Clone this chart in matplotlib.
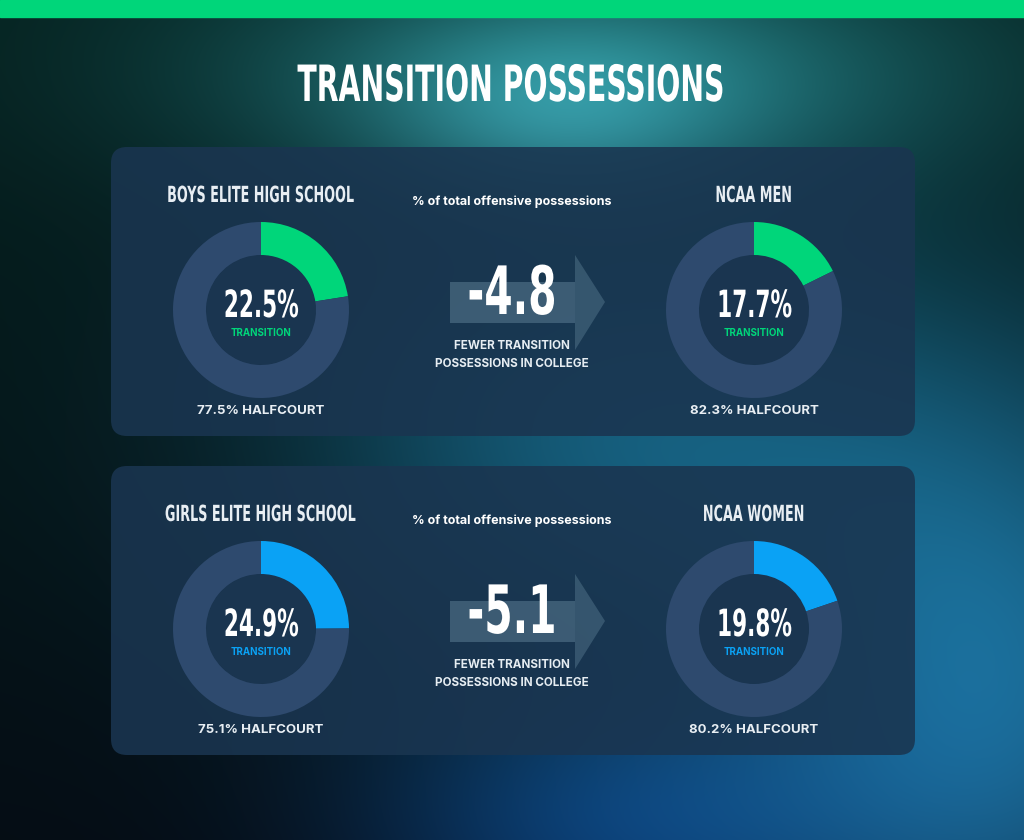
import numpy as np
import matplotlib.pyplot as plt
from matplotlib.patches import FancyBboxPatch, Polygon, Rectangle, Circle
from matplotlib.patheffects import AbstractPathEffect
from matplotlib.transforms import Affine2D

# data
groups = ["BOYS ELITE HIGH SCHOOL", "NCAA MEN", "GIRLS ELITE HIGH SCHOOL", "NCAA WOMEN"]
transition = [22.5, 17.7, 24.9, 19.8]
halfcourt = [77.5, 82.3, 75.1, 80.2]
diffs = [-4.8, -5.1]
accent = ["#00d67a", "#00d67a", "#0aa2f5", "#0aa2f5"]

W, H = 1024, 840
BODY = ["Inter", "DejaVu Sans"]


class Squeeze(AbstractPathEffect):
    # narrows the glyphs horizontally around the text centre
    def __init__(self, sx):
        super().__init__()
        self.sx = sx

    def draw_path(self, renderer, gc, tpath, affine, rgbFace=None):
        ext = tpath.get_extents()
        c = (ext.x0 + ext.x1) / 2
        t = Affine2D().translate(-c, 0).scale(self.sx, 1).translate(c, 0) + affine
        renderer.draw_path(gc, tpath, t, rgbFace)


def cond(sx):
    return dict(family="DejaVu Sans", stretch="condensed", fontweight="bold",
                path_effects=[Squeeze(sx)])


fig = plt.figure(figsize=(W / 100, H / 100), dpi=100)
ax = fig.add_axes([0, 0, 1, 1])
ax.set_xlim(0, W)
ax.set_ylim(H, 0)
ax.axis("off")

# background gradient
xx, yy = np.meshgrid(np.arange(W), np.arange(H))
t = (yy / H)[..., None]
img = (1 - t) * np.array([0.02, 0.13, 0.12]) + t * np.array([0.02, 0.05, 0.08])


def blob(cx, cy, sx, sy, col):
    g = np.exp(-(((xx - cx) / sx) ** 2 + ((yy - cy) / sy) ** 2))
    return g[..., None] * np.array(col)


img += blob(600, 70, 380, 120, [0.09, 0.30, 0.32])
img += blob(560, 110, 180, 90, [0.10, 0.18, 0.20])
img += blob(620, 440, 330, 230, [0.06, 0.26, 0.36])
img += blob(1000, 700, 260, 320, [0.08, 0.34, 0.48])
img += blob(620, 830, 260, 140, [0.02, 0.17, 0.34])
img = np.clip(img, 0, 1)
ax.imshow(img, extent=[0, W, H, 0], zorder=0, aspect="auto")

# top bar
ax.add_patch(Rectangle((0, 0), W, 17, color="#00d67a", zorder=1))

ax.text(512, 101, "TRANSITION POSSESSIONS", color="white", fontsize=36,
        ha="center", va="baseline", zorder=5, **cond(0.63))

donut_x = [261, 754]
r_out, r_in = 88, 55

for p in range(2):
    dy = p * 319
    ax.add_patch(FancyBboxPatch((111, 147 + dy), 804, 289, boxstyle="round,pad=0,rounding_size=16",
                                facecolor="#1a3550", edgecolor="none", alpha=0.88, zorder=2))

    # arrow
    ax.add_patch(Rectangle((450, 282 + dy), 125, 41, facecolor="#5a7c92", alpha=0.55,
                           edgecolor="none", zorder=3))
    ax.add_patch(Polygon([(575, 255 + dy), (605, 302 + dy), (575, 350 + dy)], closed=True,
                         facecolor="#5a7c92", alpha=0.45, edgecolor="none", zorder=3))
    ax.text(512, 202 + dy, "% of total offensive possessions", color="white", fontsize=9,
            fontweight="bold", family=BODY, ha="center", va="center", zorder=5)
    ax.text(512, 314 + dy, f"{diffs[p]:.1f}", color="white", fontsize=48,
            ha="center", va="baseline", zorder=5, **cond(0.68))
    ax.text(512, 346 + dy, "FEWER TRANSITION", color="#e6edf2", fontsize=8.4,
            fontweight="bold", family=BODY, ha="center", va="center", zorder=5)
    ax.text(512, 364 + dy, "POSSESSIONS IN COLLEGE", color="#e6edf2", fontsize=8.4,
            fontweight="bold", family=BODY, ha="center", va="center", zorder=5)

    for k in range(2):
        i = p * 2 + k
        cx, cy = donut_x[k], 310 + dy
        ax.text(cx, 202 + dy, groups[i], color="#e8eef3", fontsize=16,
                ha="center", va="baseline", zorder=5, **cond(0.64))
        ax.text(cx, 411 + dy, f"{halfcourt[i]:.1f}% HALFCOURT", color="#e8eef3", fontsize=9.5,
                fontweight="bold", family=BODY, ha="center", va="center", zorder=5)

        dax = fig.add_axes([(cx - r_out) / W, 1 - (cy + r_out) / H, 2 * r_out / W, 2 * r_out / H])
        dax.pie([transition[i], halfcourt[i]], colors=[accent[i], "#2e4a6e"], startangle=90,
                counterclock=False, radius=1.0,
                wedgeprops=dict(width=1 - r_in / r_out, edgecolor="none"))
        dax.add_patch(Circle((0, 0), r_in / r_out, color="#1a3550", zorder=0))
        dax.set_xlim(-1, 1)
        dax.set_ylim(-1, 1)
        dax.set_aspect("equal")
        dax.axis("off")
        dax.text(0, -7 / r_out, f"{transition[i]:.1f}%", color="white", fontsize=27,
                 ha="center", va="baseline", **cond(0.64))
        dax.text(0, -23 / r_out, "TRANSITION", color=accent[i], fontsize=7, fontweight="bold",
                 family=BODY, ha="center", va="center")

fig.savefig("out.png", dpi=100)
